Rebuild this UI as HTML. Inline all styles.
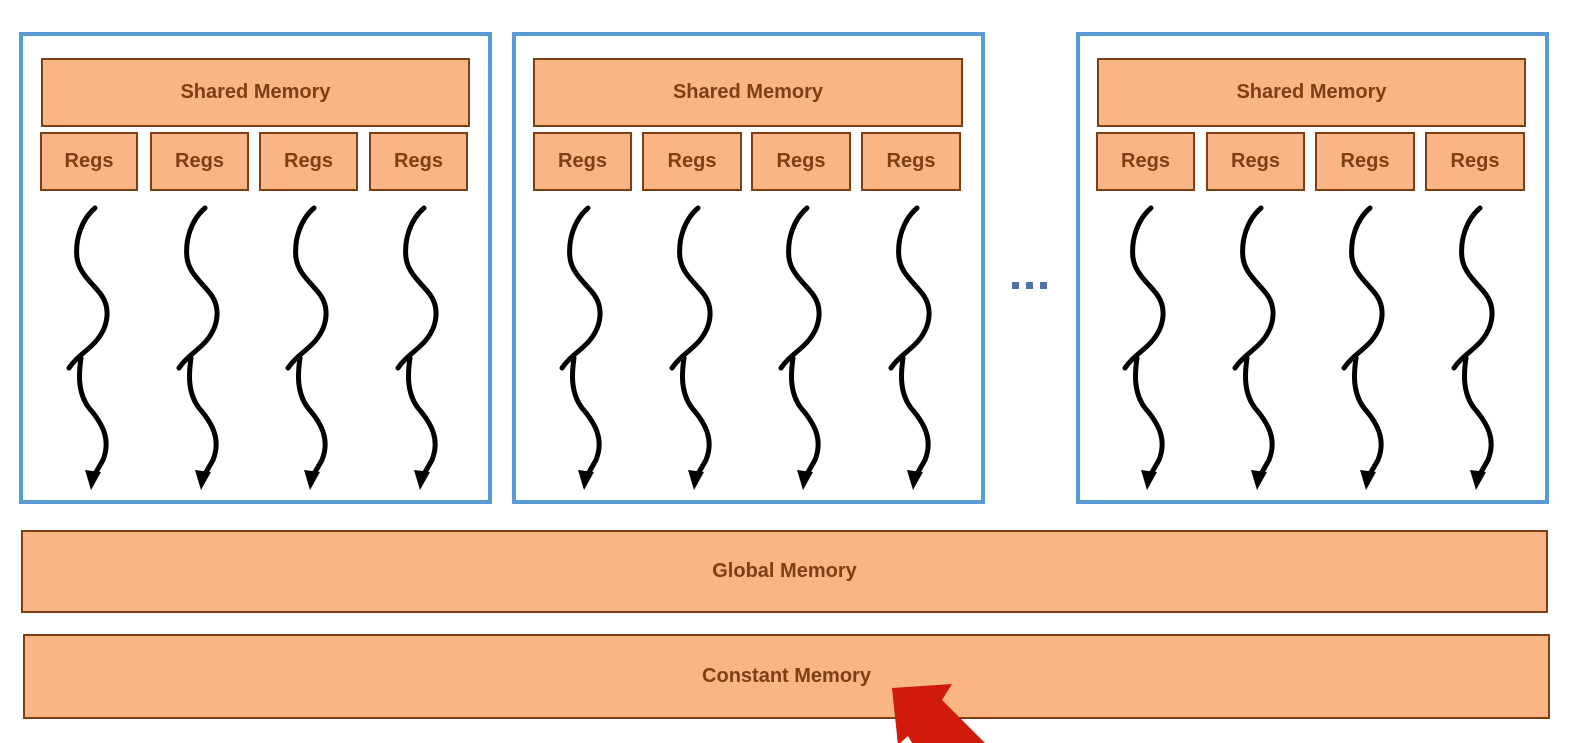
<!DOCTYPE html>
<html><head><meta charset="utf-8"><style>
html,body{margin:0;padding:0;background:#fff;width:1588px;height:743px;overflow:hidden;position:relative;font-family:"Liberation Sans",sans-serif}
.blk{position:absolute;border:4px solid #5b9bd5;box-sizing:border-box;top:32px;height:472px;width:473px}
.o{position:absolute;background:#f9b584;border:2px solid #7f3f14;box-sizing:border-box;color:#7f3f14;font-weight:bold;font-size:20px;display:flex;align-items:center;justify-content:center}
</style></head><body>
<div class="blk" style="left:19px"></div>
<div class="blk" style="left:512px"></div>
<div class="blk" style="left:1076px"></div>

<div class="o" style="left:41px;top:58px;width:429px;height:69px">Shared Memory</div>
<div class="o" style="left:533px;top:58px;width:430px;height:69px">Shared Memory</div>
<div class="o" style="left:1097px;top:58px;width:429px;height:69px">Shared Memory</div>

<div class="o" style="left:40px;top:132px;width:98px;height:59px">Regs</div>
<div class="o" style="left:150px;top:132px;width:99px;height:59px">Regs</div>
<div class="o" style="left:259px;top:132px;width:99px;height:59px">Regs</div>
<div class="o" style="left:369px;top:132px;width:99px;height:59px">Regs</div>
<div class="o" style="left:533px;top:132px;width:99px;height:59px">Regs</div>
<div class="o" style="left:642px;top:132px;width:100px;height:59px">Regs</div>
<div class="o" style="left:751px;top:132px;width:100px;height:59px">Regs</div>
<div class="o" style="left:861px;top:132px;width:100px;height:59px">Regs</div>
<div class="o" style="left:1096px;top:132px;width:99px;height:59px">Regs</div>
<div class="o" style="left:1206px;top:132px;width:99px;height:59px">Regs</div>
<div class="o" style="left:1315px;top:132px;width:100px;height:59px">Regs</div>
<div class="o" style="left:1425px;top:132px;width:100px;height:59px">Regs</div>

<div class="o" style="left:21px;top:530px;width:1527px;height:83px">Global Memory</div>
<div class="o" style="left:23px;top:634px;width:1527px;height:85px">Constant Memory</div>

<svg width="1588" height="743" style="position:absolute;left:0;top:0" xmlns="http://www.w3.org/2000/svg">
<defs>
<g id="w">
<path d="M6,208 C-8,220 -14,240 -12,258 C-10,272 0,280 10,292 C22,306 20,325 8,340 C0,350 -12,356 -20,368 M-8,358 C-10,372 -12,392 0,408 C14,424 22,440 14,460 L6,474" fill="none" stroke="#000" stroke-width="5" stroke-linecap="round" stroke-linejoin="round"/>
<polygon points="-4,470 12,472 2,490" fill="#000"/>
</g>
</defs>
<use href="#w" x="89"/><use href="#w" x="199"/><use href="#w" x="308"/><use href="#w" x="418"/>
<use href="#w" x="582"/><use href="#w" x="692"/><use href="#w" x="801"/><use href="#w" x="911"/>
<use href="#w" x="1145"/><use href="#w" x="1255"/><use href="#w" x="1364"/><use href="#w" x="1474"/>
<rect x="1012" y="282" width="7" height="7" fill="#4f72a8"/>
<rect x="1026" y="282" width="7" height="7" fill="#4f72a8"/>
<rect x="1040" y="282" width="7" height="7" fill="#4f72a8"/>
<polygon points="892,688 952,684 942,700 985,743 912,743 908,736 898,745" fill="#d01a0a"/>
</svg>
</body></html>
